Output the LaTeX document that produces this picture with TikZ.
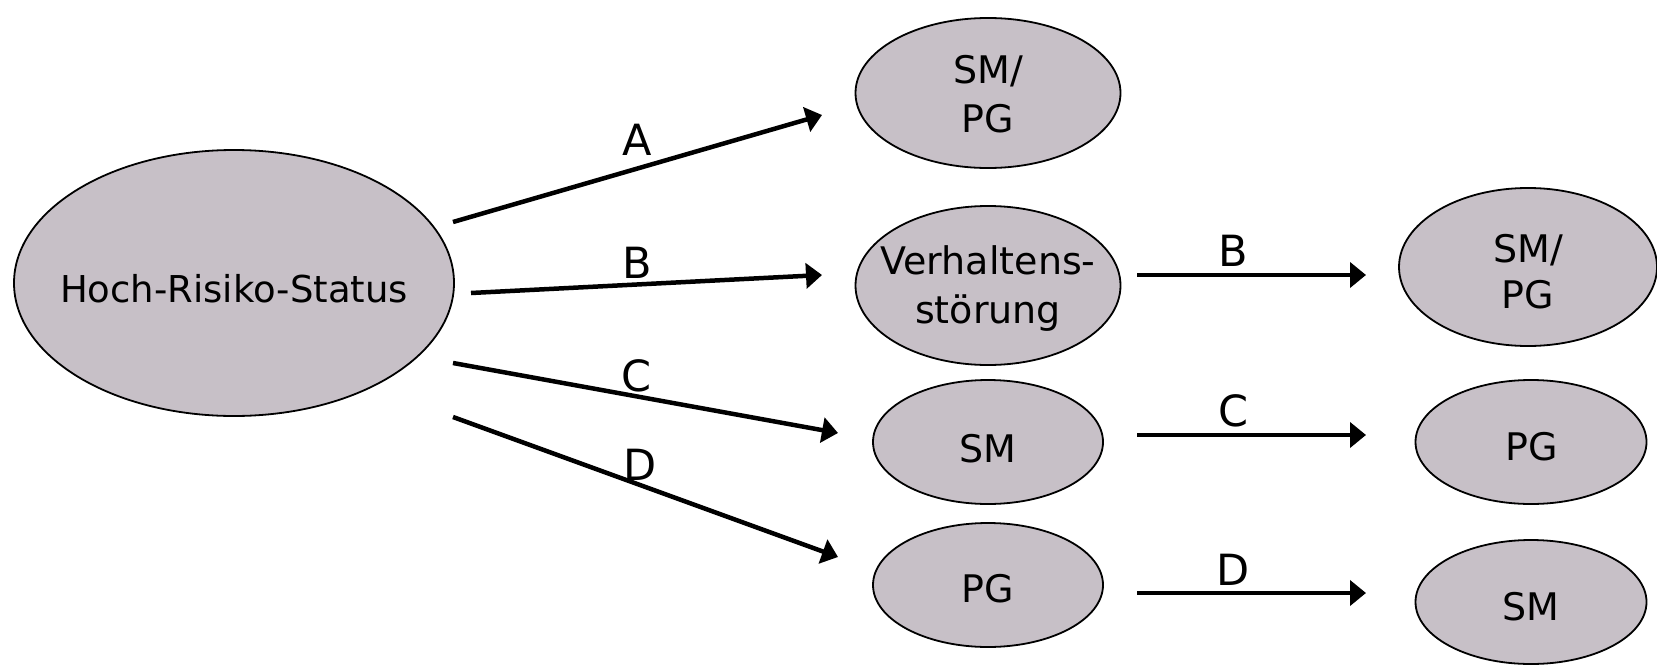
\documentclass[tikz,border=0pt]{standalone}
\usepackage{fontspec}
\setmainfont{DejaVu Sans}
\usetikzlibrary{shapes.geometric,arrows.meta}
\definecolor{ellfill}{RGB}{199,192,199}
\tikzset{
  ell/.style={ellipse, draw=black, line width=1.8pt, fill=ellfill, inner sep=0pt},
  txt/.style={inner sep=0pt, anchor=base, align=center, font=\fontsize{38}{49}\selectfont},
  lbl/.style={inner sep=0pt, anchor=base, font=\fontsize{43}{50}\selectfont},
  arr/.style={line width=4.5pt, -{Triangle[length=16pt,width=25pt]}}
}
\begin{document}
\begin{tikzpicture}[x=1pt,y=-1pt]
\useasboundingbox (0,0) rectangle (1657,664);
% ellipses
\node[ell, minimum width=440pt, minimum height=266pt] (hrs) at (234,283) {};
\node[ell, minimum width=265pt, minimum height=150pt] (smpg1) at (988,93) {};
\node[ell, minimum width=265pt, minimum height=159pt] (vs) at (988,285.5) {};
\node[ell, minimum width=230pt, minimum height=124pt] (sm1) at (988,442) {};
\node[ell, minimum width=230pt, minimum height=124pt] (pg1) at (988,585) {};
\node[ell, minimum width=258pt, minimum height=158pt] (smpg2) at (1528,267) {};
\node[ell, minimum width=231pt, minimum height=124pt] (pg2) at (1531,442) {};
\node[ell, minimum width=231pt, minimum height=124pt] (sm2) at (1531,602) {};
% texts (base = baseline of last line)
\node[txt, font=\fontsize{37}{49}\selectfont] (thrs) at (234,302) {Hoch-Risiko-Status};
\node[txt] (tsmpg1) at (988,132) {SM/\\PG};
\node[txt] (tvs) at (988,323) {Verhaltens-\\störung};
\node[txt] (tsm1) at (988,462) {SM};
\node[txt] (tpg1) at (988,602) {PG};
\node[txt, font=\fontsize{38}{46}\selectfont] (tsmpg2) at (1528,308) {SM/\\PG};
\node[txt] (tpg2) at (1532,460) {PG};
\node[txt] (tsm2) at (1531,620) {SM};
% arrow end points
\coordinate (a0) at (453,222); \coordinate (a1) at (822,115);
\coordinate (b0) at (471,293); \coordinate (b1) at (822,275);
\coordinate (c0) at (453,363); \coordinate (c1) at (838,433);
\coordinate (d0) at (453,417); \coordinate (d1) at (838,557);
\coordinate (rb0) at (1137,275); \coordinate (rb1) at (1366,275);
\coordinate (rc0) at (1137,435); \coordinate (rc1) at (1366,435);
\coordinate (rd0) at (1137,593); \coordinate (rd1) at (1366,593);
\draw[arr] (a0) -- (a1);
\draw[arr] (b0) -- (b1);
\draw[arr] (c0) -- (c1);
\draw[arr] (d0) -- (d1);
\draw[arr] (rb0) -- (rb1);
\draw[arr] (rc0) -- (rc1);
\draw[arr] (rd0) -- (rd1);
% labels
\node[lbl] (la) at (637,155) {A};
\node[lbl] (lb) at (637,278) {B};
\node[lbl] (lc) at (637,391) {C};
\node[lbl] (ld) at (640,480) {D};
\node[lbl] (lrb) at (1233,266) {B};
\node[lbl] (lrc) at (1233,426) {C};
\node[lbl] (lrd) at (1233,585) {D};
\end{tikzpicture}
\end{document}
